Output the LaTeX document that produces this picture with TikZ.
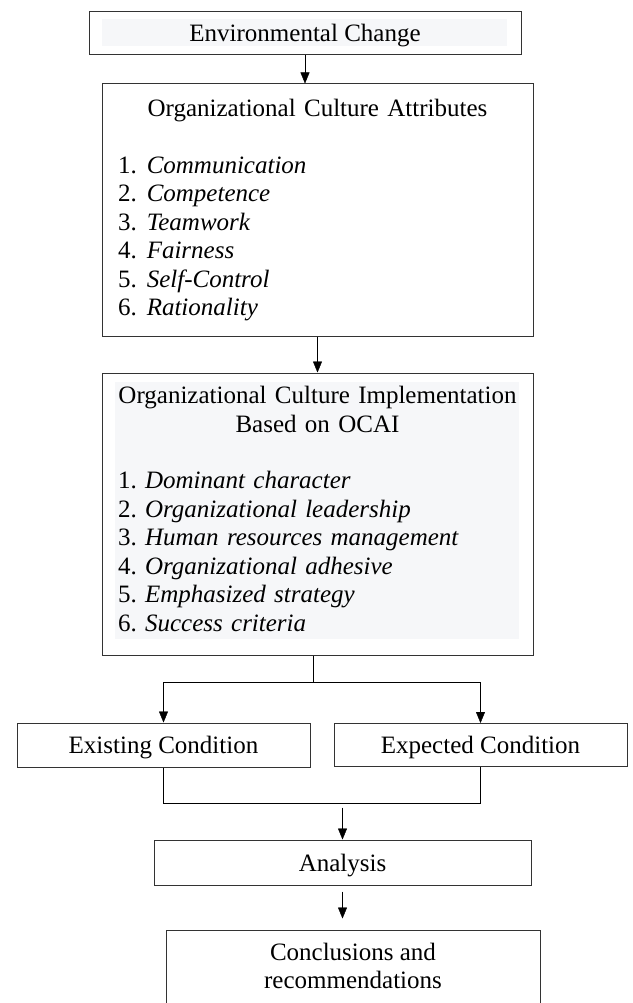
\documentclass[tikz,border=0pt]{standalone}
\usepackage{fontspec}
\setmainfont{Liberation Serif}
\usetikzlibrary{positioning,arrows.meta}
\definecolor{panelgray}{RGB}{246,247,249}

\begin{document}
\begin{tikzpicture}[x=1pt, y=1pt, >={Triangle[width=9pt,length=11pt]},
    font=\fontsize{25}{28.5}\selectfont,
    frame/.style = {draw=black!80, line width=1pt, inner sep=0pt},
    single/.style = {frame, text height=17pt, text depth=0pt},
    listbox/.style = {frame, inner xsep=16pt, text width=399pt, align=left, execute at begin node={\parindent=0pt}},
    panel/.style n args = {4}{path picture={\fill[panelgray] ([xshift=#1, yshift=-#2]path picture bounding box.north west) rectangle ([xshift=-#3, yshift=#4]path picture bounding box.south east);}}]
    \useasboundingbox (0,0) rectangle (632,-1003);
    \clip (0,0) rectangle (632,-1003);

    \node[single, panel={13pt}{7pt}{14pt}{9pt}, minimum width=432pt, minimum height=43pt] (1) at (305,-33.5) {Environmental Change};

    \node[listbox, minimum height=252pt] (2) [below=28pt of 1, xshift=12.5pt] {%
        {\centering Organizational Culture Attributes\par}
        \vspace{28.5pt}
        1.\hspace{10pt}\textit{Communication}\\
        2.\hspace{10pt}\textit{Competence}\\
        3.\hspace{10pt}\textit{Teamwork}\\
        4.\hspace{10pt}\textit{Fairness}\\
        5.\hspace{10pt}\textit{Self-Control}\\
        6.\hspace{10pt}\textit{Rationality}};

    \node[listbox, panel={13pt}{9pt}{14pt}{16pt}, minimum height=282pt] (3) [below=36pt of 2] {%
        {\centering Organizational Culture Implementation\par Based on OCAI\par}
        \vspace{28pt}
        1.\ \textit{Dominant character}\\
        2.\ \textit{Organizational leadership}\\
        3.\ \textit{Human resources management}\\
        4.\ \textit{Organizational adhesive}\\
        5.\ \textit{Emphasized strategy}\\
        6.\ \textit{Success criteria}\par
        \nointerlineskip\vbox to 10pt{}};

    \node[single, minimum width=293pt, minimum height=44pt] (4) [below=67pt of 3, xshift=-154pt] {Existing Condition};
    \node[single, minimum width=293pt, minimum height=43pt] (5) [right=23pt of 4] {Expected Condition};

    \node[single, minimum width=377pt, minimum height=45pt] (6) [below=184pt of 3, xshift=25pt] {Analysis};
    \node[frame, minimum width=374pt, inner ysep=13pt, text depth=70pt, align=center] (7) [below=44pt of 6, xshift=10.5pt] {Conclusions and\\ recommendations};

    \draw[->] (1.south) -- (1.south |- 2.north);
    \draw[->] (2) -- (3);

    \coordinate (split) at ([xshift=-4pt, yshift=-27pt]3.south);
    \draw (split |- 3.south) -- (split);
    \draw[->] (split) -| (4.north);
    \draw[->] (split) -| (5.north);

    \coordinate (merge) at ([yshift=-36pt]4.south);
    \draw (4.south) -- (merge) -| (5.south);
    \draw[->, shorten <=4pt] (6.north |- merge) -- (6.north);
    \draw[->, shorten <=6pt, shorten >=11pt] (6.south) -- (6.south |- 7.north);
\end{tikzpicture}
\end{document}
